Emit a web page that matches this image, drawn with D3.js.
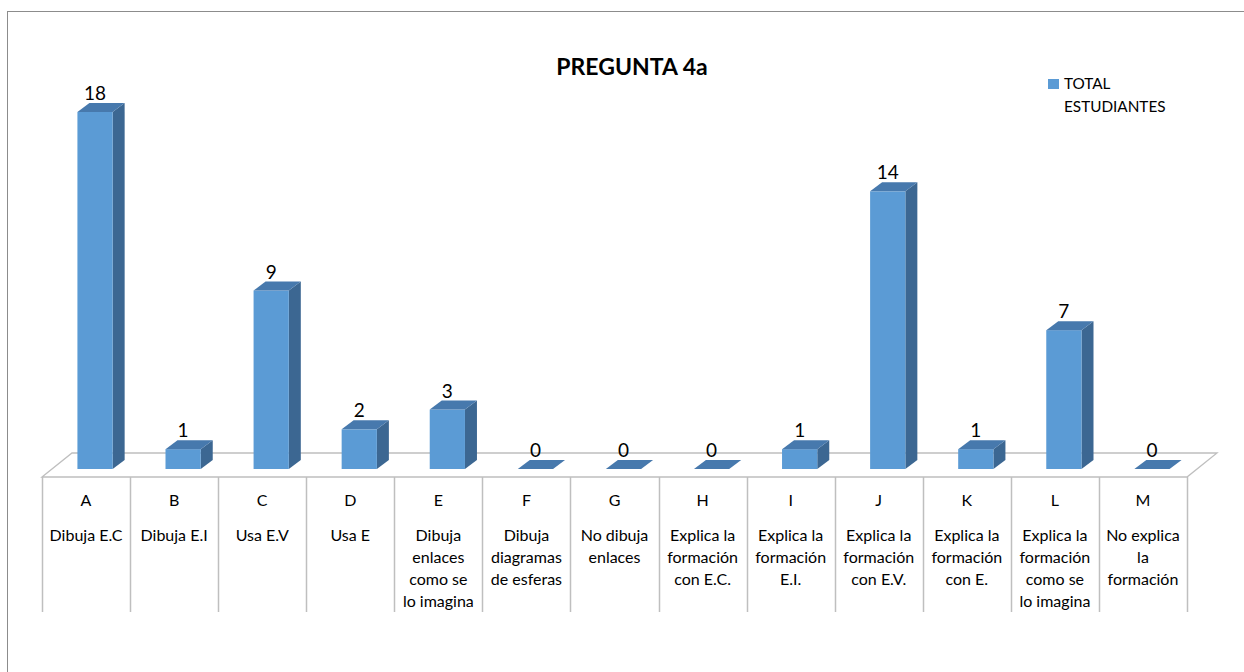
<!DOCTYPE html>
<html>
<head>
<meta charset="utf-8">
<script src="https://cdn.jsdelivr.net/npm/d3@7"></script>
<style>
  html, body { margin: 0; padding: 0; background: #fff; }
  svg { display: block; font-family: Lato, "Open Sans", sans-serif; }
</style>
</head>
<body>
<svg id="chart" width="1244" height="672"></svg>
<script>
// Category codes, their descriptive labels (one entry per line) and the totals.
const codes = ["A", "B", "C", "D", "E", "F", "G", "H", "I", "J", "K", "L", "M"];
const descriptions = [
  ["Dibuja E.C"],
  ["Dibuja E.I"],
  ["Usa E.V"],
  ["Usa E"],
  ["Dibuja", "enlaces", "como se", "lo imagina"],
  ["Dibuja", "diagramas", "de esferas"],
  ["No dibuja", "enlaces"],
  ["Explica la", "formación", "con E.C."],
  ["Explica la", "formación", "E.I."],
  ["Explica la", "formación", "con E.V."],
  ["Explica la", "formación", "con E."],
  ["Explica la", "formación", "como se", "lo imagina"],
  ["No explica", "la", "formación"]
];
const totals = [18, 1, 9, 2, 3, 0, 0, 0, 1, 14, 1, 7, 0];
const seriesName = ["TOTAL", "ESTUDIANTES"];
const title = "PREGUNTA 4a";

const svg = d3.select("#chart");

// Outer chart frame (runs off the right and bottom edges)
svg.append("rect")
  .attr("x", 7.5).attr("y", 11.5)
  .attr("width", 1300).attr("height", 700)
  .attr("fill", "none").attr("stroke", "#8c8c8c").attr("stroke-width", 1);

// Floor geometry: front edge and depth vector of the 3D base
const floorY = 477;
const floorDepth = { dx: 30, dy: -24 };
const x = d3.scaleBand().domain(codes).range([42, 1187]).paddingInner(0).paddingOuter(0);
const barFrac = 0.4;            // share of the band taken by a bar
const barPos = 1 / 3;           // bars stand a third of the way into the floor
const barShift = { dx: floorDepth.dx * barPos, dy: floorDepth.dy * barPos };
const barDepth = { dx: 12, dy: -9 };

const y = d3.scaleLinear().domain([0, 18]).range([floorY + barShift.dy, 112]);

const gridColor = "#bfbfbf";

// Floor outline
const x0 = x.range()[0], x1 = x.range()[1];
svg.append("path")
  .attr("d", d3.line()([
    [x0, floorY], [x0 + floorDepth.dx, floorY + floorDepth.dy],
    [x1 + floorDepth.dx, floorY + floorDepth.dy], [x1, floorY]
  ]) + "Z")
  .attr("fill", "#fff").attr("stroke", gridColor).attr("stroke-width", 1.3);

// Category table: vertical separators below the floor
const tableBottom = 612;
const seps = codes.map(c => x(c)).concat([x1]);
svg.append("g").selectAll("line").data(seps).join("line")
  .attr("x1", d => Math.round(d) + 0.5).attr("x2", d => Math.round(d) + 0.5)
  .attr("y1", floorY).attr("y2", tableBottom)
  .attr("stroke", gridColor).attr("stroke-width", 1.5);

// Bars
const colors = { front: "#5b9bd5", top: "#4779ad", side: "#3c6792" };
const bars = svg.append("g").selectAll("g").data(codes.map((c, i) => ({ c, v: totals[i] }))).join("g");

bars.each(function (d) {
  const g = d3.select(this);
  const bw = x.bandwidth() * barFrac;
  const left = x(d.c) + (x.bandwidth() - bw) / 2 + barShift.dx - 1;
  const right = left + bw;
  const yb = y(0), yt = y(d.v);
  const bdx = barDepth.dx, bdy = barDepth.dy;
  const line = d3.line();
  if (d.v > 0) {
    // side face
    g.append("path").attr("d", line([[right, yb], [right, yt], [right + bdx, yt + bdy], [right + bdx, yb + bdy]]) + "Z")
      .attr("fill", colors.side);
    // front face
    g.append("rect").attr("x", left).attr("y", yt).attr("width", bw).attr("height", yb - yt)
      .attr("fill", colors.front);
  }
  // top face (the only visible face for a zero value)
  g.append("path").attr("d", line([[left, yt], [left + bdx, yt + bdy], [right + bdx, yt + bdy], [right, yt]]) + "Z")
    .attr("fill", colors.top);

  // value label
  g.append("text")
    .attr("x", (left + right) / 2)
    .attr("y", yt + bdy - 3)
    .attr("text-anchor", "middle")
    .attr("font-size", 19)
    .attr("fill", "#000")
    .text(d.v);
});

// Category codes and descriptions
const labels = svg.append("g").selectAll("g").data(codes.map((c, i) => ({ c, lines: descriptions[i] }))).join("g")
  .attr("transform", d => `translate(${x(d.c) + x.bandwidth() / 2},0)`);
labels.append("text")
  .attr("y", 506).attr("text-anchor", "middle").attr("font-size", 16).attr("fill", "#000")
  .text(d => d.c);
labels.each(function (d) {
  d3.select(this).selectAll("text.desc").data(d.lines).join("text")
    .attr("class", "desc")
    .attr("y", (t, j) => 541 + j * 22)
    .attr("text-anchor", "middle").attr("font-size", 16).attr("fill", "#000")
    .text(t => t);
});

// Title
svg.append("text")
  .attr("x", 632).attr("y", 75)
  .attr("text-anchor", "middle")
  .attr("font-size", 23).attr("font-weight", "bold").attr("fill", "#000")
  .text(title);

// Legend
const legend = svg.append("g").attr("transform", "translate(1048,79)");
legend.append("rect").attr("width", 11).attr("height", 10).attr("fill", colors.front);
legend.selectAll("text").data(seriesName).join("text")
  .attr("x", 16).attr("y", (d, i) => 10 + i * 23)
  .attr("font-size", 15.3).attr("fill", "#000")
  .text(d => d);
</script>
</body>
</html>
